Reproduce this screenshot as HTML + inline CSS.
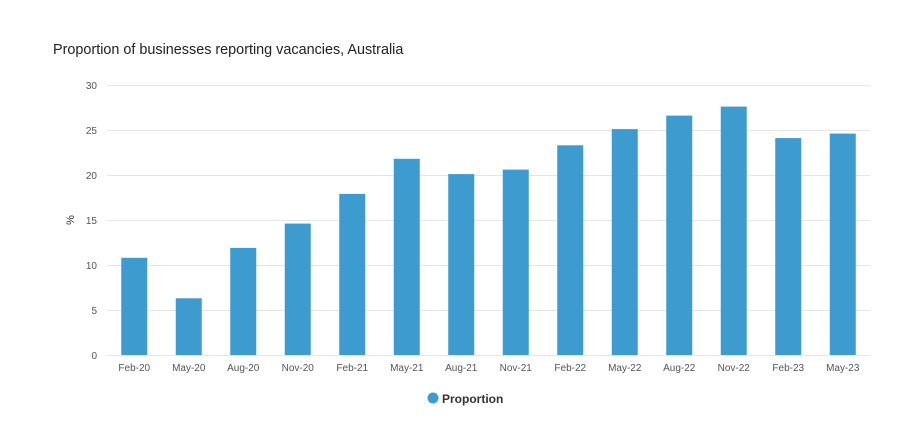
<!DOCTYPE html>
<html><head><meta charset="utf-8"><style>
html,body{margin:0;padding:0;background:#fff;}
svg{display:block;font-family:"Liberation Sans","DejaVu Sans",sans-serif;}
</style></head><body>
<svg width="906" height="421" viewBox="0 0 906 421" xmlns="http://www.w3.org/2000/svg">
<rect width="906" height="421" fill="#fff"/>
<text x="53" y="54" font-size="14.4" fill="#222">Proportion of businesses reporting vacancies, Australia</text>
<g stroke="#e6e6e6" stroke-width="1">
<line x1="107" x2="870" y1="85.5" y2="85.5"/>
<line x1="107" x2="870" y1="130.5" y2="130.5"/>
<line x1="107" x2="870" y1="175.5" y2="175.5"/>
<line x1="107" x2="870" y1="220.5" y2="220.5"/>
<line x1="107" x2="870" y1="265.5" y2="265.5"/>
<line x1="107" x2="870" y1="310.5" y2="310.5"/>
<line x1="107" x2="870" y1="355.5" y2="355.5"/>
</g>
<g font-size="10" fill="#555" text-anchor="end">
<text x="97" y="89">30</text>
<text x="97" y="134">25</text>
<text x="97" y="179">20</text>
<text x="97" y="224">15</text>
<text x="97" y="269">10</text>
<text x="97" y="314">5</text>
<text x="97" y="359">0</text>
</g>
<text x="0" y="0" font-size="11" fill="#333" transform="translate(74,220) rotate(-90)" text-anchor="middle">%</text>
<g fill="#3d9bd0" id="bars"></g>
<g font-size="10" fill="#555" text-anchor="middle" id="labels"></g>
<circle cx="433" cy="398" r="5.5" fill="#3d9bd0"/>
<text x="442" y="403" font-size="12" font-weight="bold" fill="#333">Proportion</text>
<script>
var v=[10.8,6.3,11.9,14.6,17.9,21.8,20.1,20.6,23.3,25.1,26.6,27.6,24.1,24.6];
var l=["Feb-20","May-20","Aug-20","Nov-20","Feb-21","May-21","Aug-21","Nov-21","Feb-22","May-22","Aug-22","Nov-22","Feb-23","May-23"];
var ns="http://www.w3.org/2000/svg",b=document.getElementById("bars"),t=document.getElementById("labels");
for(var i=0;i<14;i++){var c=107+54.5*(i+0.5);var h=v[i]*9;
var r=document.createElementNS(ns,"rect");r.setAttribute("x",c-13);r.setAttribute("width",26);r.setAttribute("y",355-h);r.setAttribute("height",h);b.appendChild(r);
var x=document.createElementNS(ns,"text");x.setAttribute("x",c);x.setAttribute("y",371);x.textContent=l[i];t.appendChild(x);}
</script>
</svg>
</body></html>
